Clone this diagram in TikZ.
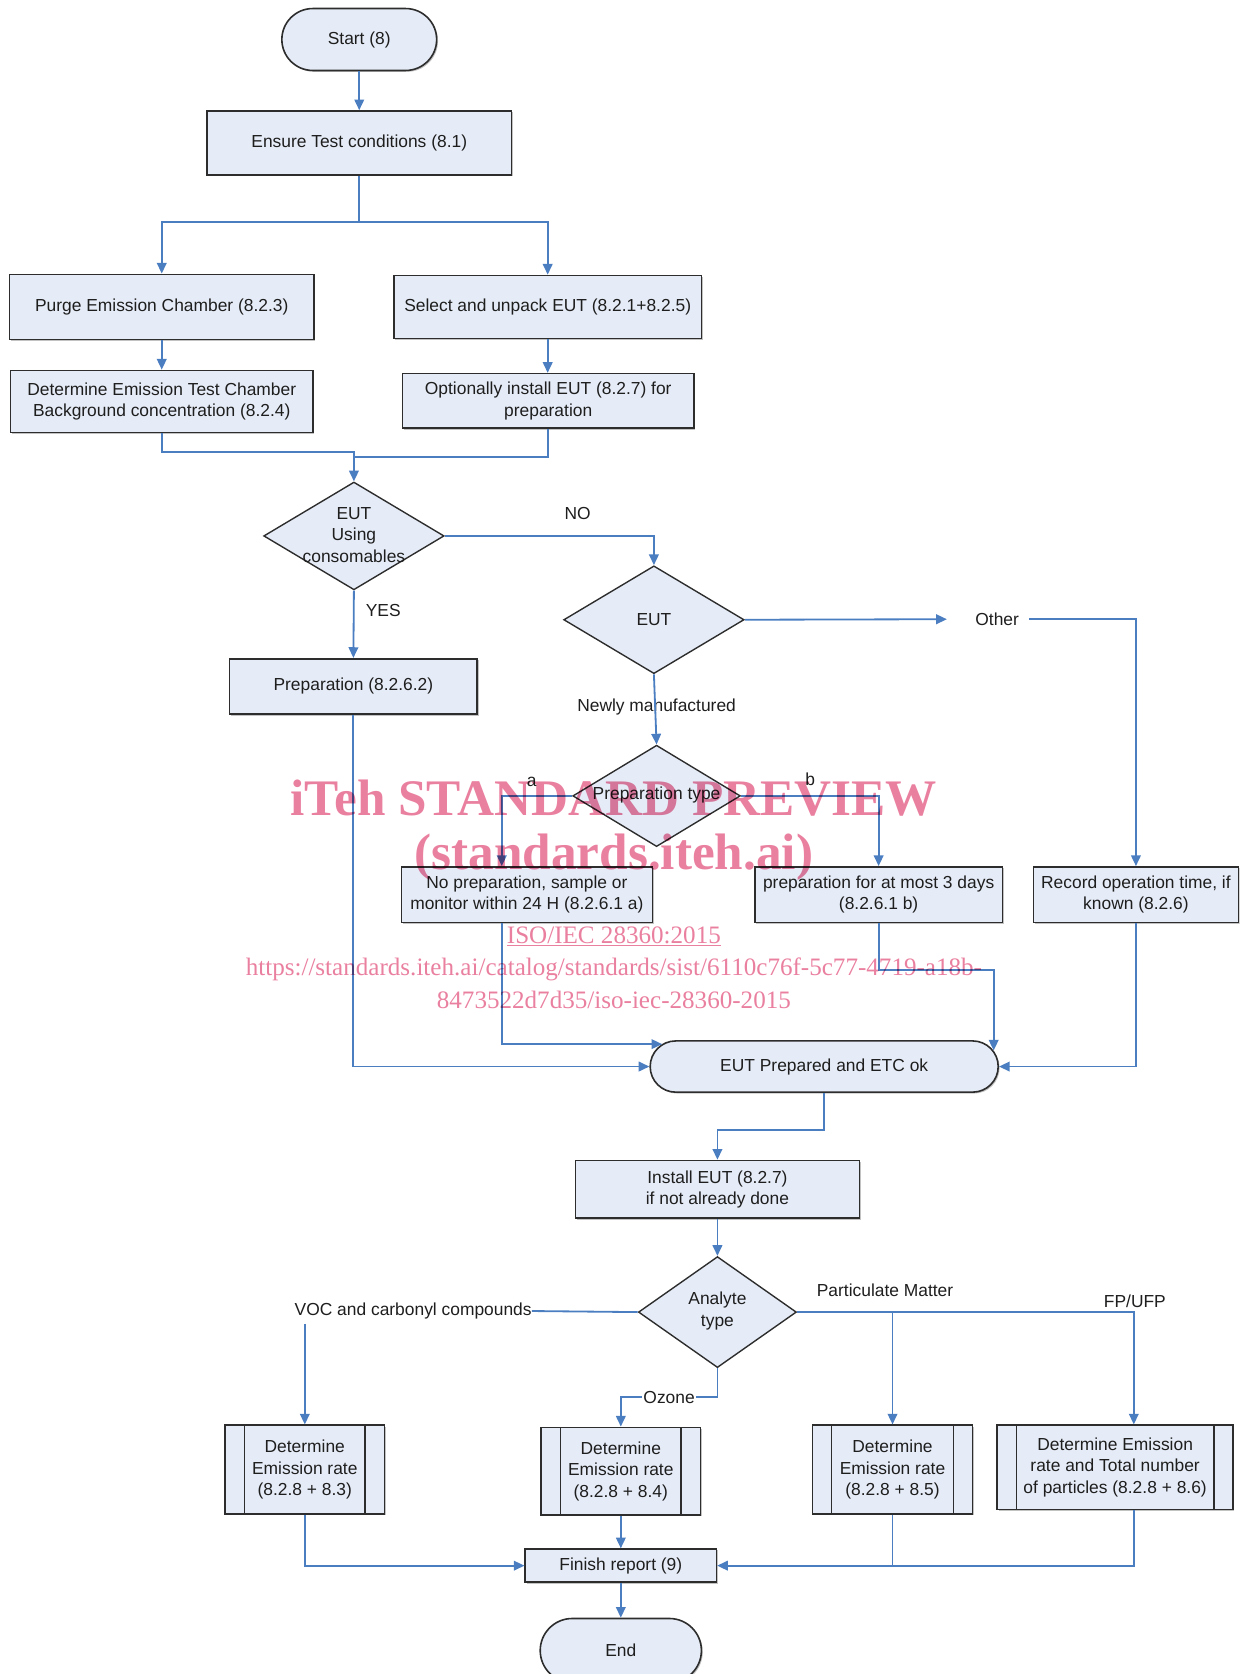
\documentclass[tikz,border=0pt]{standalone}
\usepackage{fontspec}
\setmainfont{Liberation Sans}
\newfontfamily\wmfont{Liberation Serif}
\usetikzlibrary{arrows.meta,shapes.geometric,shadows}
\definecolor{boxfill}{RGB}{230,236,247}
\definecolor{boxline}{RGB}{45,45,45}
\definecolor{conn}{RGB}{74,126,193}
\definecolor{wm}{RGB}{234,128,160}
\definecolor{txt}{RGB}{30,30,30}
\begin{document}
\begin{tikzpicture}[x=1pt,y=-1pt,
  font=\fontsize{16.3}{20}\selectfont,
  every node/.style={text=txt},
  box/.style={draw=boxline, line width=1.5pt, fill=boxfill, rectangle, inner sep=0pt, align=center,
    drop shadow={shadow xshift=1.3pt, shadow yshift=-1.3pt, fill=black!40, opacity=0.6}},
  term/.style={box, rounded corners=#1},
  dia/.style={draw=boxline, line width=1.3pt, fill=boxfill, diamond, inner sep=0pt},
  pproc/.style={box, path picture={
    \draw[boxline, line width=1.3pt]
      ([xshift=18pt]path picture bounding box.north west) -- ([xshift=18pt]path picture bounding box.south west)
      ([xshift=-18pt]path picture bounding box.north east) -- ([xshift=-18pt]path picture bounding box.south east);}},
  arr/.style={draw=conn, line width=1.7pt, -{Triangle[length=10pt,width=9pt]}},
  ln/.style={draw=conn, line width=1.7pt},
  lbl/.style={inner sep=0pt, align=center},
  wmtext/.style={text=wm, inner sep=0pt}
]
\useasboundingbox (0,0) rectangle (1161,1568);
\clip (0,0) rectangle (1161,1568);

% ---- nodes
\node[term=29pt, minimum width=145pt, minimum height=58pt] (start) at (336.5,37) {Start (8)};
\node[box, minimum width=285pt, minimum height=60pt] (ensure) at (336.5,134) {Ensure Test conditions (8.1)};
\node[box, minimum width=285pt, minimum height=61pt] (purge) at (151.5,287.5) {Purge Emission Chamber (8.2.3)};
\node[box, minimum width=288pt, minimum height=59pt] (select) at (513,287.5) {Select and unpack EUT (8.2.1+8.2.5)};
\node[box, minimum width=283pt, minimum height=58pt] (detbg) at (151.5,376) {Determine Emission Test Chamber\\Background concentration (8.2.4)};
\node[box, minimum width=273pt, minimum height=51pt] (opt) at (513.5,375.5) {Optionally install EUT (8.2.7) for\\preparation};

\node[dia, minimum width=169pt, minimum height=101pt] (d1) at (331.5,502) {};
\node[lbl] (d1t) at (331.5,501) {EUT\\Using\\consomables};
\node[box, minimum width=232pt, minimum height=52pt] (prep) at (331,643) {Preparation (8.2.6.2)};

\node[dia, minimum width=169pt, minimum height=101pt] (d2) at (612.5,580.5) {};
\node[lbl] (d2t) at (612.5,580) {EUT};
\node[dia, minimum width=157pt, minimum height=95pt] (d3) at (615,745.5) {};
\node[lbl] (d3t) at (615,745) {Preparation type};

\node[box, minimum width=235pt, minimum height=52pt] (noprep) at (493.5,838) {No preparation, sample or\\monitor within 24 H (8.2.6.1 a)};
\node[box, minimum width=232pt, minimum height=52pt] (prep3) at (823,838) {preparation for at most 3 days\\(8.2.6.1 b)};
\node[box, minimum width=192pt, minimum height=52pt] (record) at (1064,838) {Record operation time, if\\known (8.2.6)};

\node[term=24pt, minimum width=326pt, minimum height=48pt] (eutok) at (772,999) {EUT Prepared and ETC ok};
\node[box, minimum width=266pt, minimum height=54pt] (install) at (672,1114) {Install EUT (8.2.7)\\if not already done};
\node[dia, minimum width=148pt, minimum height=104pt] (d4) at (672,1229) {};
\node[lbl] (d4t) at (672,1228) {Analyte\\type};

\node[pproc, minimum width=149pt, minimum height=83pt] (dr1) at (285.5,1376.5) {Determine\\Emission rate\\(8.2.8 + 8.3)};
\node[pproc, minimum width=149pt, minimum height=82pt] (dr2) at (581.5,1378) {Determine\\Emission rate\\(8.2.8 + 8.4)};
\node[pproc, minimum width=150pt, minimum height=83pt] (dr3) at (836,1376.5) {Determine\\Emission rate\\(8.2.8 + 8.5)};
\node[pproc, minimum width=221pt, minimum height=79pt] (dr4) at (1044.5,1374.5) {Determine Emission\\rate and Total number\\of particles (8.2.8 + 8.6)};
\node[box, minimum width=179pt, minimum height=31pt] (finish) at (581.5,1466.5) {Finish report (9)};
\node[term=30pt, minimum width=151pt, minimum height=60pt] (end) at (581.5,1546) {End};

% ---- labels
\node[lbl] (lno) at (541,481) {NO};
\node[lbl] (lyes) at (359,572) {YES};
\node[lbl] (other) at (934,580) {Other};
\node[lbl] (lnew) at (615,662) {Newly manufactured};
\node[lbl] (la) at (498,732) {a};
\node[lbl] (lb) at (759,730) {b};
\node[lbl] (voc) at (387,1228) {VOC and carbonyl compounds};
\node[lbl] (lpm) at (829,1209) {Particulate Matter};
\node[lbl] (lfp) at (1063,1219) {FP/UFP};

% ---- connectors
\coordinate (split) at (336.5,208);
\coordinate (mL) at (331.5,423);
\coordinate (mR) at (331.5,428);
\draw[arr] (start.south) -- (ensure.north);
\draw[ln] (ensure.south) -- (split);
\draw[arr] (split) -| (purge.north);
\draw[arr] (split) -| (select.north);
\draw[arr] (purge.south) -- (detbg.north);
\draw[arr] (select.south) -- (select.south |- opt.north);
\draw[arr] (detbg.south) |- (mL) -- (d1.north);
\draw[ln] (opt.south) |- (mR);
\draw[arr] (d1.east) -| (d2.north);
\draw[arr] (d1.south) -- (prep.north);
\draw[arr] (prep.south) |- (eutok.west);
\draw[arr] (d2.east) -- ([xshift=-26.5pt]other.west);
\draw[arr] ([xshift=9.5pt]other.east) -| (record.north);
\draw[arr] (d2.south) -- (d3.north);
\draw[arr] (d3.west) -| ([xshift=-23.5pt]noprep.north);
\draw[arr] (d3.east) -| (prep3.north);
\draw[arr] ([xshift=-23.5pt]noprep.south) |- ([xshift=12pt,yshift=21pt]eutok.west);
\draw[arr] (prep3.south) -- ++(0,44) -| ([xshift=-5pt,yshift=15pt]eutok.east);
\draw[arr] (record.south) |- (eutok.east);
\draw[arr] (eutok.south) -- ++(0,35) -| (install.north);
\draw[arr] (install.south) -- (d4.north);
\draw[ln] (d4.west) -- (voc.east);
\draw[arr] (voc.south -| dr1.north) ++(0,4) -- (dr1.north);
\draw[arr] (d4.south) -- ++(0,27) -| node[pos=0.25, fill=white, inner sep=1pt] (oz) {Ozone} (dr2.north);
\draw[arr] (d4.east) -| ([xshift=17.5pt]dr4.north);
\draw[arr] (d4.east -| dr3.north) -- (dr3.north);
\draw[arr] (dr1.south) |- (finish.west);
\draw[arr] (dr2.south) -- (finish.north);
\draw[arr] ([xshift=17.5pt]dr4.south) |- (finish.east);
\draw[ln] (dr3.south) -- (dr3.south |- finish.east);
\draw[arr] (finish.south) -- (end.north);

% ---- watermark
\begin{scope}[blend mode=multiply]
\node[wmtext, font=\wmfont\bfseries\fontsize{48}{50}\selectfont] (wm1) at (575,748) {iTeh STANDARD PREVIEW};
\node[wmtext, font=\wmfont\bfseries\fontsize{48}{50}\selectfont] (wm2) at (575,803) {(standards.iteh.ai)};
\node[wmtext, font=\wmfont\fontsize{23.5}{26}\selectfont] (wm3) at (575,877) {\underline{ISO/IEC 28360:2015}};
\node[wmtext, font=\wmfont\fontsize{23.5}{26}\selectfont] (wm4) at (575,908) {https://standards.iteh.ai/catalog/standards/sist/6110c76f-5c77-4719-a18b-};
\node[wmtext, font=\wmfont\fontsize{23.5}{26}\selectfont] (wm5) at (575,937) {8473522d7d35/iso-iec-28360-2015};
\end{scope}
\end{tikzpicture}
\end{document}
